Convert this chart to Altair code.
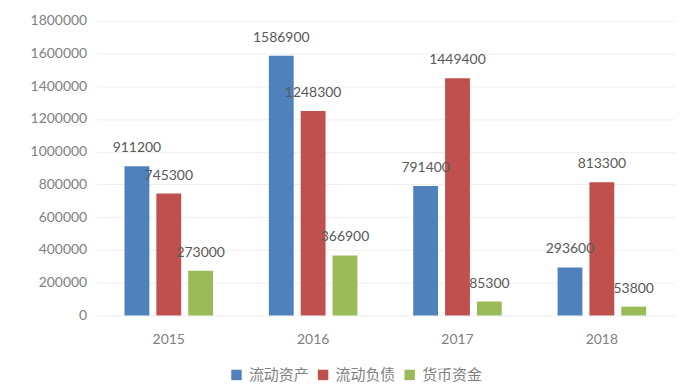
import altair as alt
import pandas as pd

years = ["2015", "2016", "2017", "2018"]
series = ["流动资产", "流动负债", "货币资金"]
current_assets = [911200, 1586900, 791400, 293600]
current_liabilities = [745300, 1248300, 1449400, 813300]
monetary_funds = [273000, 366900, 85300, 53800]
colors = ["#4F81BD", "#C0504D", "#9BBB59"]
y_ticks = [0, 200000, 400000, 600000, 800000, 1000000, 1200000, 1400000, 1600000, 1800000]

rows = []
for s, vals in zip(series, [current_assets, current_liabilities, monetary_funds]):
    for yr, v in zip(years, vals):
        rows.append({"year": yr, "series": s, "value": v})
df = pd.DataFrame(rows)

x_axis = alt.Axis(labelAngle=0, labelFont="Lato", labelFontSize=14,
                  labelColor="#7f7f7f", labelPadding=17, domain=False,
                  domainColor="white", domainWidth=0, domainOpacity=0,
                  ticks=False, tickSize=0, grid=False, gridOpacity=0)
y_axis = alt.Axis(values=y_ticks, format="d", labelFont="Lato",
                  labelFontSize=14, labelColor="#7f7f7f", labelPadding=10,
                  labelOverlap=False, labelBound=False, labelFlush=False,
                  domain=False, domainColor="white", domainWidth=0, domainOpacity=0,
                  ticks=False, tickSize=0,
                  gridColor="#eeeeee", gridWidth=1,
                  minExtent=67, maxExtent=67)

base = alt.Chart(df).encode(
    x=alt.X("year:N", sort=years, title=None,
            scale=alt.Scale(paddingInner=0.338, paddingOuter=0.169), axis=x_axis),
    xOffset=alt.XOffset("series:N", sort=series,
                        scale=alt.Scale(paddingInner=0.22, paddingOuter=0.11)),
    y=alt.Y("value:Q", title=None,
            scale=alt.Scale(domain=[0, 1800000], nice=False), axis=y_axis),
)

bars = base.mark_bar().encode(
    color=alt.Color("series:N", sort=series,
                    scale=alt.Scale(domain=series, range=colors),
                    legend=alt.Legend(title=None, orient="none", direction="horizontal",
                                      columns=3, legendX=133, legendY=348,
                                      symbolType="square", symbolSize=110,
                                      symbolStrokeWidth=0,
                                      labelFont="Noto Sans CJK SC", labelFontSize=15,
                                      labelColor="#7f7f7f", labelOffset=5,
                                      columnPadding=6, padding=0)),
)

labels = base.mark_text(dy=-14, baseline="alphabetic", fontSize=14,
                        font="Lato", color="#595959").encode(
    text=alt.Text("value:Q", format="d"),
)

chart = (bars + labels).properties(
    width=580, height=296, background="white",
    padding={"left": 22, "top": 5, "right": 5, "bottom": 0},
).configure_view(stroke=None, strokeWidth=0, strokeOpacity=0).configure_axis(
    domain=False, domainOpacity=0).configure_axisY(domain=False).configure_axisX(domain=False)

chart.save("out.html", embed_options={"renderer": "svg", "actions": False})
